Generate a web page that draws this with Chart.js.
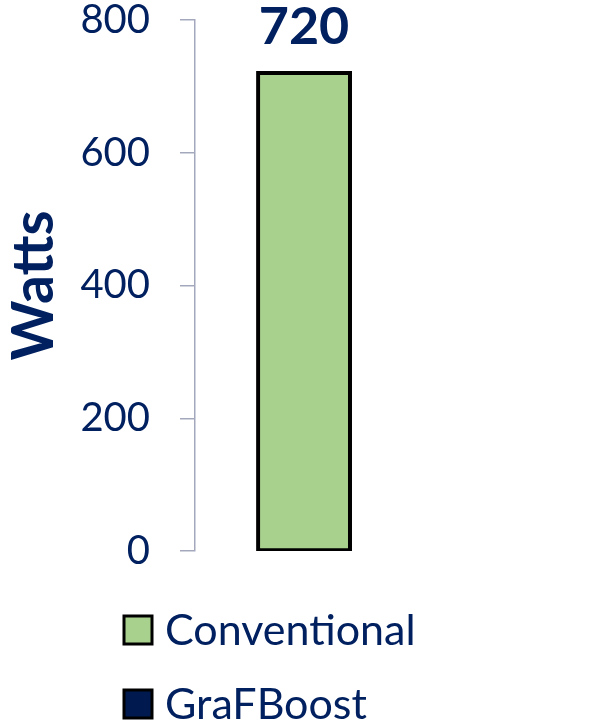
<!DOCTYPE html>
<html>
<head>
<meta charset="utf-8">
<script src="https://cdn.jsdelivr.net/npm/chart.js@4"></script>
<style>
  html, body { margin: 0; padding: 0; background: #fff; }
  #wrap { width: 603px; height: 724px; }
</style>
</head>
<body>
<div id="wrap"><canvas id="powerChart" width="603" height="724"></canvas></div>
<script>
// Data
const categories = ['Power'];
const seriesNames = ['Conventional', 'GraFBoost'];
const conventionalWatts = [720];
const grafboostWatts = [null];
const yTicks = [0, 200, 400, 600, 800];

const NAVY = '#002060';
const AXIS = '#a4a8bd';

// Value label above each bar
const barLabels = {
    id: 'barLabels',
    afterDatasetsDraw(chart) {
        const ctx = chart.ctx;
        ctx.save();
        ctx.font = 'bold 52px Lato';
        ctx.fillStyle = NAVY;
        ctx.textAlign = 'center';
        ctx.textBaseline = 'alphabetic';
        chart.data.datasets.forEach((ds, i) => {
            chart.getDatasetMeta(i).data.forEach((bar, j) => {
                const v = ds.data[j];
                if (v === null || v === undefined) return;
                ctx.fillText(String(v), bar.x, bar.y - 29);
            });
        });
        ctx.restore();
    }
};

// Stacked legend under the plot
const stackedLegend = {
    id: 'stackedLegend',
    afterDraw(chart) {
        const ctx = chart.ctx;
        ctx.save();
        ctx.font = '43px Lato';
        ctx.textBaseline = 'alphabetic';
        chart.data.datasets.forEach((ds, i) => {
            const top = 616 + i * 74;
            ctx.fillStyle = ds.backgroundColor;
            ctx.fillRect(124, top, 28, 28);
            ctx.lineWidth = 3;
            ctx.strokeStyle = '#000';
            ctx.strokeRect(124, top, 28, 28);
            ctx.fillStyle = NAVY;
            ctx.fillText(ds.label, 165, top + 29);
        });
        ctx.restore();
    }
};

new Chart(document.getElementById('powerChart'), {
    type: 'bar',
    data: {
        labels: categories,
        datasets: [
            {
                label: seriesNames[0],
                data: conventionalWatts,
                backgroundColor: '#a9d18e',
                borderColor: '#000',
                borderWidth: 4,
                borderSkipped: false,
                inflateAmount: 2,
                categoryPercentage: 0.931,
                barPercentage: 0.484
            },
            {
                label: seriesNames[1],
                data: grafboostWatts,
                backgroundColor: '#001a4f',
                borderColor: '#000',
                borderWidth: 4,
                borderSkipped: false,
                inflateAmount: 2,
                categoryPercentage: 0.931,
                barPercentage: 0.484
            }
        ]
    },
    options: {
        responsive: false,
        animation: false,
        layout: { padding: { top: 20, right: 0, bottom: 173, left: 0 } },
        plugins: {
            legend: { display: false },
            tooltip: { enabled: false }
        },
        scales: {
            x: { display: false },
            y: {
                min: 0,
                max: 800,
                afterFit(scale) {
                    scale.width = 195;
                    scale.paddingTop = 0;
                    scale.paddingBottom = 0;
                },
                afterBuildTicks(scale) { scale.ticks = yTicks.map(v => ({ value: v })); },
                border: { display: true, color: AXIS, width: 1.5 },
                grid: {
                    drawOnChartArea: false,
                    drawTicks: true,
                    tickLength: 15,
                    color: AXIS,
                    lineWidth: 1.5
                },
                ticks: {
                    padding: 30,
                    color: NAVY,
                    font: { family: 'Lato', size: 40 }
                },
                title: {
                    display: true,
                    text: 'Watts',
                    color: NAVY,
                    font: { family: 'Lato', size: 57, weight: 'bold' },
                    padding: { top: 0, bottom: 0 }
                }
            }
        }
    },
    plugins: [barLabels, stackedLegend]
});
</script>
</body>
</html>
